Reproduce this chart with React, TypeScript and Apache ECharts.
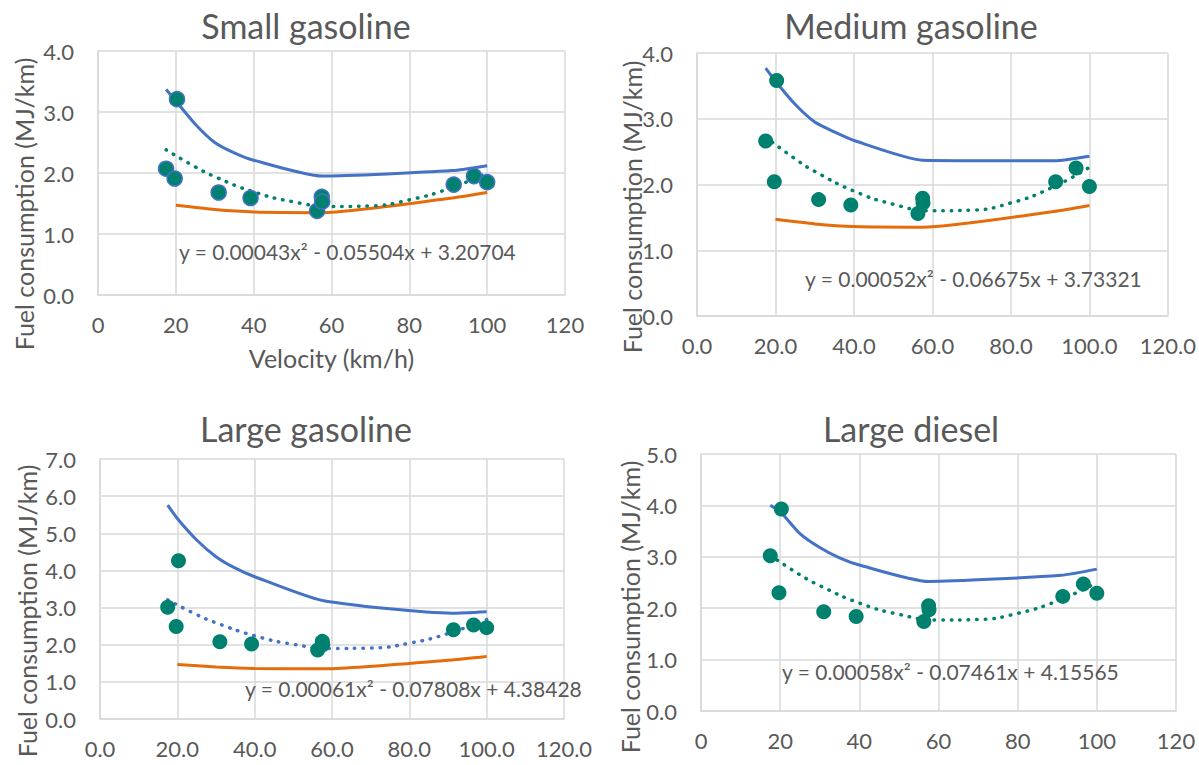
import React, { useEffect, useRef } from "react";
import * as echarts from "echarts";

// ---- Data ----
const panelTitles = ["Small gasoline", "Medium gasoline", "Large gasoline", "Large diesel"];
const yMax = [4, 4, 7, 5];
const equations = [
  "y = 0.00043x\u00B2 - 0.05504x + 3.20704",
  "y = 0.00052x\u00B2 - 0.06675x + 3.73321",
  "y = 0.00061x\u00B2 - 0.07808x + 4.38428",
  "y = 0.00058x\u00B2 - 0.07461x + 4.15565",
];

// Modelled line (blue)
const blueX = [17.5, 20, 25, 30, 35, 40, 57.5, 91, 100];
const blueSmall = [3.37, 3.18, 2.8, 2.5, 2.33, 2.21, 1.95, 2.04, 2.12];
const blueMedium = [3.77, 3.57, 3.22, 2.95, 2.8, 2.67, 2.37, 2.36, 2.43];
const blueLargeGas = [5.76, 5.4, 4.82, 4.37, 4.06, 3.83, 3.19, 2.85, 2.89];
const blueLargeDiesel = [4.0, 3.88, 3.45, 3.18, 2.98, 2.84, 2.52, 2.64, 2.76];

// Second modelled line (orange) — not shown for diesel
const orangeX = [20, 30, 40, 57.5, 91, 100];
const orangeVals = [1.47, 1.4, 1.36, 1.35, 1.59, 1.68];

// Measured points
const pointX = [17.5, 19.7, 20.3, 31.0, 39.2, 56.3, 57.5, 57.6, 91.4, 96.6, 100];
const pointsSmall = [2.07, 1.91, 3.21, 1.68, 1.59, 1.38, 1.61, 1.53, 1.81, 1.95, 1.85];
const pointsMedium = [2.66, 2.04, 3.58, 1.77, 1.69, 1.56, 1.79, 1.72, 2.04, 2.25, 1.97];
const pointsLargeGas = [3.01, 2.49, 4.26, 2.08, 2.02, 1.86, 2.09, 2.0, 2.4, 2.53, 2.46];
const pointsLargeDiesel = [3.02, 2.3, 3.93, 1.93, 1.84, 1.74, 2.05, 1.97, 2.23, 2.47, 2.29];

// Polynomial trend lines
const trendX = [17.5, 25, 30, 40, 50, 60, 70, 80, 90, 100];
const trendSmall = [2.38, 2.1, 1.94, 1.69, 1.53, 1.45, 1.46, 1.56, 1.74, 2.0];
const trendMedium = [2.72, 2.39, 2.2, 1.9, 1.7, 1.6, 1.61, 1.72, 1.94, 2.26];
const trendLargeGas = [3.21, 2.81, 2.59, 2.24, 2.01, 1.9, 1.91, 2.04, 2.3, 2.68];
const trendLargeDiesel = [3.03, 2.65, 2.44, 2.1, 1.88, 1.77, 1.78, 1.9, 2.14, 2.5];

const blueSets = [blueSmall, blueMedium, blueLargeGas, blueLargeDiesel];
const pointSets = [pointsSmall, pointsMedium, pointsLargeGas, pointsLargeDiesel];
const trendSets = [trendSmall, trendMedium, trendLargeGas, trendLargeDiesel];
const hasOrange = [true, true, true, false];
const xLabelDecimals = [false, true, true, false];

// ---- Layout / style ----
const FONT = "Lato";
const TXT = "#595959";
const GRIDC = "#D9D9D9";
const BLUE = "#4472C4";
const ORANGE = "#E46C0A";
const TEAL = "#00806E";

const grids = [
  { left: 98, top: 51, width: 467, height: 244 },
  { left: 697, top: 53, width: 472, height: 263 },
  { left: 100, top: 459, width: 464, height: 260 },
  { left: 701, top: 454, width: 475, height: 257 },
];
const titlePos = [
  [306, 25],
  [911, 25],
  [306, 428],
  [911, 428],
];
const eqPos = [
  [179, 251],
  [805, 278],
  [245, 688],
  [782, 671],
];
const yTitlePos = [
  [24, 204],
  [632, 207],
  [27, 611],
  [630, 607],
];

const zip = (xs: number[], ys: number[]) => xs.map((x, i) => [x, ys[i]]);

export default function App() {
  const ref = useRef<HTMLDivElement>(null);
  useEffect(() => {
    if (!ref.current) return;
    const chart = echarts.init(ref.current, null, { renderer: "svg" });

    const xAxis: any[] = [];
    const yAxis: any[] = [];
    const series: any[] = [];
    const graphic: any[] = [];

    for (let i = 0; i < 4; i++) {
      xAxis.push({
        type: "value",
        gridIndex: i,
        min: 0,
        max: 120,
        interval: 20,
        name: i === 0 ? "Velocity (km/h)" : "",
        nameLocation: "middle",
        nameGap: 50,
        nameTextStyle: { fontFamily: FONT, fontSize: 25, color: TXT },
        axisLine: { show: true, lineStyle: { color: GRIDC, width: 1.5 } },
        axisTick: { show: false },
        splitLine: { show: true, lineStyle: { color: GRIDC, width: 1.5 } },
        axisLabel: {
          fontFamily: FONT,
          fontSize: 22,
          color: TXT,
          margin: 18,
          formatter: (v: number) => (xLabelDecimals[i] ? v.toFixed(1) : String(v)),
        },
      });
      yAxis.push({
        type: "value",
        gridIndex: i,
        min: 0,
        max: yMax[i],
        interval: 1,
        axisLine: { show: true, lineStyle: { color: GRIDC, width: 1.5 } },
        axisTick: { show: false },
        splitLine: { show: true, lineStyle: { color: GRIDC, width: 1.5 } },
        axisLabel: {
          fontFamily: FONT,
          fontSize: 22,
          color: TXT,
          margin: 24,
          formatter: (v: number) => v.toFixed(1),
        },
      });

      series.push({
        name: "Model",
        type: "line",
        xAxisIndex: i,
        yAxisIndex: i,
        data: zip(blueX, blueSets[i]),
        showSymbol: false,
        smooth: 0.2,
        lineStyle: { color: BLUE, width: 3 },
        z: 2,
      });
      if (hasOrange[i]) {
        series.push({
          name: "Model 2",
          type: "line",
          xAxisIndex: i,
          yAxisIndex: i,
          data: zip(orangeX, orangeVals),
          showSymbol: false,
          smooth: 0.2,
          lineStyle: { color: ORANGE, width: 3 },
          z: 2,
        });
      }
      series.push({
        name: "Trend",
        type: "line",
        xAxisIndex: i,
        yAxisIndex: i,
        data: zip(trendX, trendSets[i]),
        showSymbol: false,
        smooth: true,
        lineStyle: {
          color: i === 2 ? BLUE : TEAL,
          width: 3.5,
          type: [0.5, 8],
          cap: "round",
        },
        z: 3,
      });
      series.push({
        name: "Measured",
        type: "scatter",
        xAxisIndex: i,
        yAxisIndex: i,
        data: zip(pointX, pointSets[i]),
        symbol: "circle",
        symbolSize: 15,
        itemStyle:
          i === 0
            ? { color: TEAL, borderColor: BLUE, borderWidth: 1.5, opacity: 1 }
            : { color: TEAL, opacity: 1 },
        z: 4,
      });

      graphic.push({
        type: "text",
        x: titlePos[i][0],
        y: titlePos[i][1],
        style: {
          text: panelTitles[i],
          fontFamily: FONT,
          fontSize: 34,
          fill: TXT,
          textAlign: "center",
          textVerticalAlign: "middle",
        },
      });
      graphic.push({
        type: "text",
        x: eqPos[i][0],
        y: eqPos[i][1],
        z: 10,
        style: {
          text: equations[i],
          fontFamily: FONT,
          fontSize: 21,
          fill: TXT,
          textAlign: "left",
          textVerticalAlign: "middle",
        },
      });
      graphic.push({
        type: "text",
        x: yTitlePos[i][0],
        y: yTitlePos[i][1],
        rotation: Math.PI / 2,
        style: {
          text: "Fuel consumption (MJ/km)",
          fontFamily: FONT,
          fontSize: 25,
          fill: TXT,
          textAlign: "center",
          textVerticalAlign: "middle",
        },
      });
    }

    chart.setOption({
      animation: false,
      backgroundColor: "#ffffff",
      grid: grids.map((g) => ({ ...g, containLabel: false })),
      xAxis,
      yAxis,
      series,
      graphic,
    });
    return () => chart.dispose();
  }, []);

  return (
    <div
      ref={ref}
      style={{ position: "fixed", left: 0, top: 0, width: 1199, height: 765, background: "#fff" }}
    />
  );
}
